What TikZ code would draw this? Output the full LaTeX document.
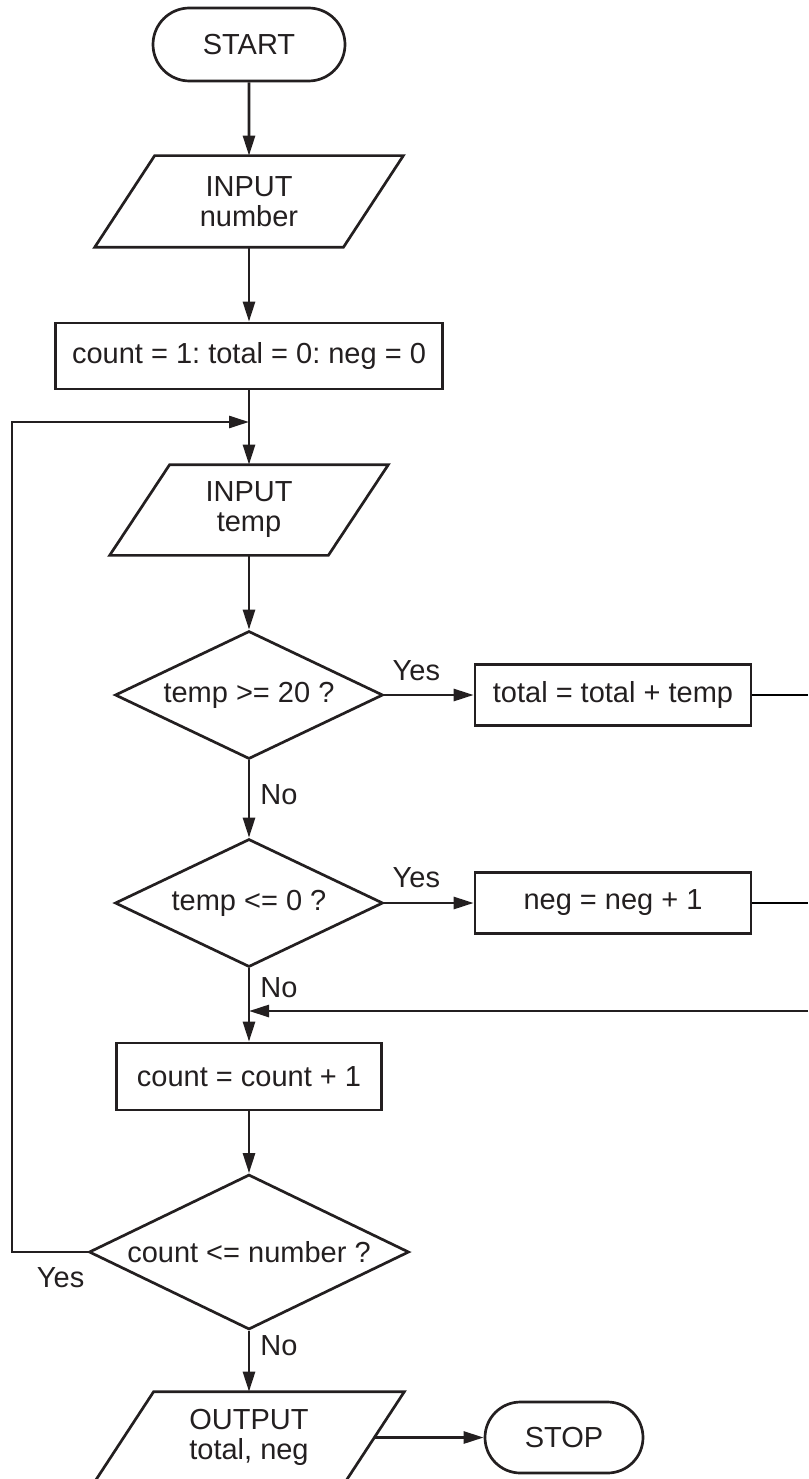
\documentclass[tikz,border=0pt]{standalone}
\usepackage{fontspec}
\setmainfont{Liberation Sans}
\usepackage{xcolor}
\usepackage{tikz}
\usetikzlibrary{arrows.meta,positioning,shapes.geometric,shapes.misc}
\definecolor{ink}{RGB}{35,31,32}
\tikzstyle{terminal} = [draw=ink, rounded rectangle, inner sep=0pt]
\tikzstyle{io} = [rectangle, inner sep=0pt, align=center]
\tikzstyle{process} = [draw=ink, rectangle, inner sep=0pt]
\tikzstyle{decision} = [draw=ink, diamond, aspect=2, inner sep=0pt]
\tikzstyle{branch} = [text=ink, inner sep=0pt]
\tikzstyle{flow} = [draw=ink, -{Triangle[length=20pt,width=12pt]}]
\frenchspacing

\begin{document}
\begin{tikzpicture}[x=1pt, y=-1pt, line width=2.7pt, text=ink,
    font=\fontsize{29}{30}\selectfont]
\useasboundingbox (0,0) rectangle (808,1479);
\clip (0,0) rectangle (808,1479);

\node [terminal, minimum width=192, minimum height=73] (start) at (249,44.5) {START};
\node [io, minimum width=246, minimum height=89] (innum) at (249,201.5) {INPUT\\number};
\node [process, minimum width=387, minimum height=66] (init) at (249,356) {count = 1: total = 0: neg = 0};
\node [io, minimum width=216, minimum height=88] (intemp) at (249,510) {INPUT\\temp};
\node [decision, minimum width=268, minimum height=128] (hot) at (249,695) {temp >= 20 ?};
\node [process, minimum width=276, minimum height=61] (addtotal) at (613,695) {total = total + temp};
\node [decision, minimum width=268, minimum height=128] (cold) at (249,903) {temp <= 0 ?};
\node [process, minimum width=276, minimum height=61] (addneg) at (613,903) {neg = neg + 1};
\node [process, minimum width=265, minimum height=67] (inc) at (249,1076.5) {count = count + 1};
\node [decision, minimum width=320, minimum height=155] (again) at (249,1252) {count <= number ?};
\node [io, minimum width=248, minimum height=89] (out) at (249,1437.5) {OUTPUT\\total, neg};
\node [terminal, minimum width=158, minimum height=71] (stop) at (564,1437.5) {STOP};

\foreach \n in {innum,intemp,out}
  \draw [ink] ([xshift=30pt]\n.north west) -- ([xshift=30pt]\n.north east)
    -- ([xshift=-30pt]\n.south east) -- ([xshift=-30pt]\n.south west) -- cycle;

\coordinate (loopx) at (12,0);
\coordinate (edge) at (808,0);
\coordinate (join1) at (249,422);
\coordinate (join2) at (249,1011);

\draw [flow] (start) -- (innum);
\draw [flow] (innum) -- (init);
\draw [flow] (init) -- (intemp);
\draw [flow] (intemp) -- (hot);
\draw [flow] (hot) -- (addtotal);
\draw [flow] (hot) -- node[branch, right=10pt, pos=0.44] (no1) {No} (cold);
\draw [flow] (cold) -- (addneg);
\draw [flow] (cold) -- node[branch, right=10pt, pos=0.26] (no2) {No} (inc);
\draw [flow] (inc) -- (again);
\draw [flow] (again) -- node[branch, right=10pt, pos=0.25] (no3) {No} (out);
\draw [flow] (out.east) -- (stop.west);
\draw [flow] (again.west) -- (again.west -| loopx) |- (join1);
\draw (addtotal.east) -- (addtotal.east -| edge);
\draw (addneg.east) -- (addneg.east -| edge);
\draw [flow] (join2 -| edge) -- (join2);

\node [branch, above right=12.5pt and 7pt of hot.east] (yes1) {Yes};
\node [branch, above right=13.5pt and 7pt of cold.east] (yes2) {Yes};
\node [branch, below left=14.5pt and 2pt of again.west] (yes3) {Yes};
\end{tikzpicture}
\end{document}
